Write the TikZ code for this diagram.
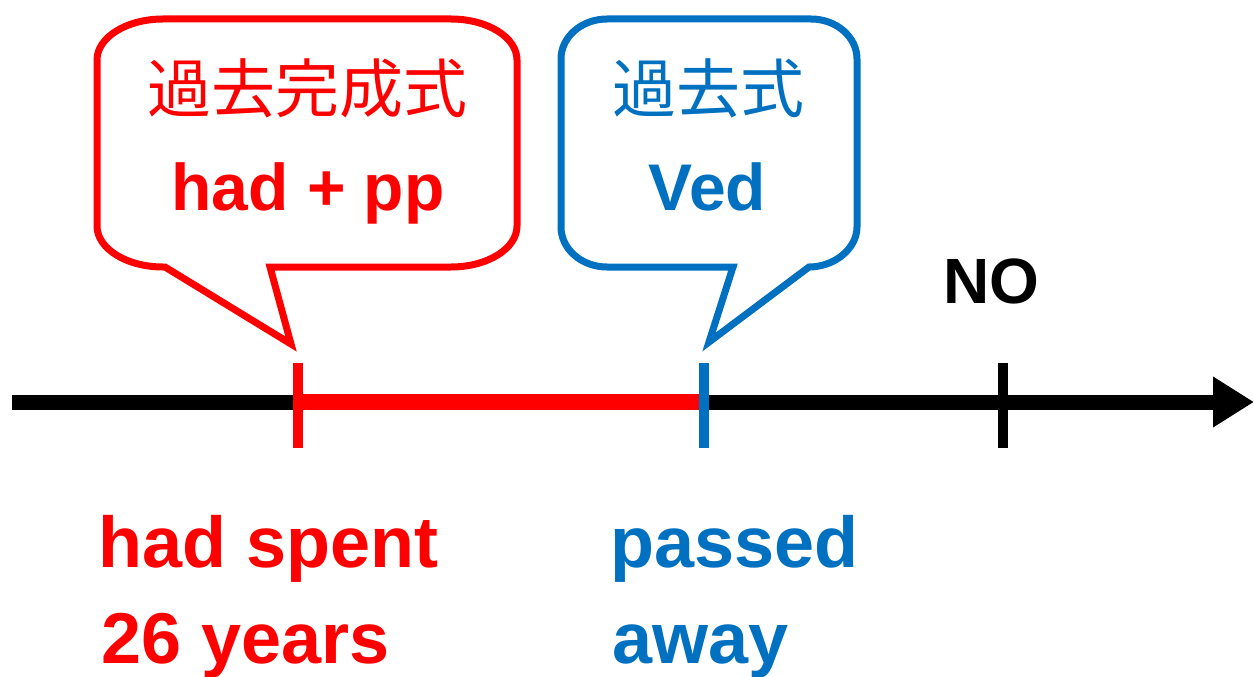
\documentclass[tikz,border=0pt]{standalone}
\usepackage{fontspec}
\setmainfont{Liberation Sans}
\newfontfamily\cjk{Noto Sans CJK JP}
\usetikzlibrary{arrows.meta}
\definecolor{pred}{HTML}{FF0000}
\definecolor{pblue}{HTML}{0070C0}
\begin{document}
\begin{tikzpicture}[x=1pt,y=-1pt,
  bubble/.style={line width=7pt,line join=miter,draw=#1,fill=white},
  tick/.style={line width=10pt},
  lbl/.style={inner sep=0pt,font=\bfseries\fontsize{72}{96}\selectfont},
  head/.style={inner sep=0pt,font=\bfseries\fontsize{66}{80}\selectfont},
  kanji/.style={inner sep=0pt,font=\cjk\fontsize{64}{70}\selectfont}]
\useasboundingbox (0,0) rectangle (1254,677);
% axis
\coordinate (a0) at (12,402);
\coordinate (a1) at (1254,402);
\coordinate (pR) at (298,402);
\coordinate (pB) at (704,402);
\coordinate (pN) at (1003,402);
\draw[line width=15pt,-{Triangle[length=41pt,width=48pt]}] (a0) -- (a1);
\draw[pred,line width=16pt] (pR) -- (700,402);
\draw[tick,pred] (298,363) -- (298,448);
\draw[tick,pblue] (704,363) -- (704,448);
\draw[tick,black] (1003,363) -- (1003,448);
% red bubble
\path[bubble=pred] (163,19) -- (451,19) .. controls (487.5,19) and (517,37.4) .. (517,60)
  -- (517,226) .. controls (517,248.6) and (487.5,267) .. (451,267)
  -- (270,267) -- (291,344) -- (165,267) -- (163,267)
  .. controls (126.5,267) and (97,248.6) .. (97,226)
  -- (97,60) .. controls (97,37.4) and (126.5,19) .. (163,19) -- cycle;
% blue bubble
\path[bubble=pblue] (607,19) -- (811,19) .. controls (836.4,19) and (857,37) .. (857,59)
  -- (857,227) .. controls (857,249) and (834,267) .. (809,267)
  -- (709,342) -- (733,267) -- (607,267)
  .. controls (581.6,267) and (561,249) .. (561,227)
  -- (561,59) .. controls (561,37) and (581.6,19) .. (607,19) -- cycle;
% texts
\node[kanji,text=pred] (k1) at (307.5,88) {過去完成式};
\node[head,text=pred,anchor=base] (h1) at (308,210) {had + pp};
\node[kanji,text=pblue] (k2) at (708,88) {過去式};
\node[head,text=pblue,anchor=base] (h2) at (707.5,210) {Ved};
\node[inner sep=0pt,font=\bfseries\fontsize{64}{70}\selectfont,anchor=base] (no) at (991.5,303) {NO};
\node[lbl,text=pred,anchor=base west] (r1) at (98,567) {had spent};
\node[lbl,text=pred,anchor=base west] (r2) at (101,663) {26 years};
\node[lbl,text=pblue,anchor=base west] (b1) at (610,567) {passed};
\node[lbl,text=pblue,anchor=base west] (b2) at (612,663) {away};
\end{tikzpicture}
\end{document}
